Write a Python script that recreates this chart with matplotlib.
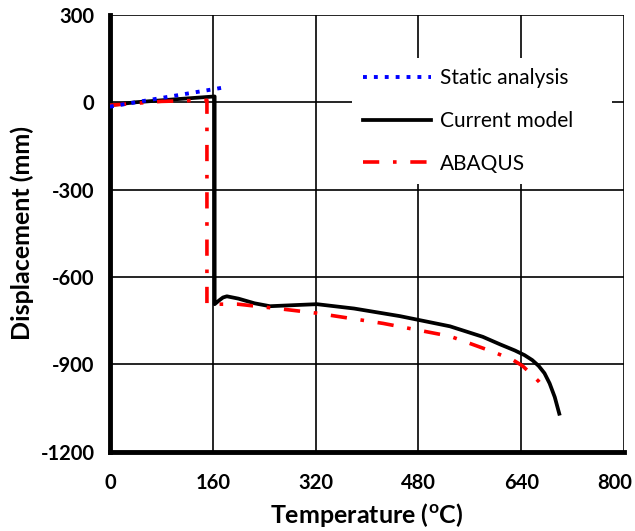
import matplotlib
matplotlib.use("Agg")
import matplotlib.pyplot as plt
import matplotlib.transforms as mtransforms

plt.rcParams['font.family'] = ['Lato', 'DejaVu Sans']
plt.rcParams['axes.unicode_minus'] = False

# static analysis (linear)
static_t = [0, 175]
static_d = [-15, 50]

# current model
model_t = [0, 40, 100, 163, 163, 170, 176, 182, 200, 225, 249, 290, 322, 380, 451, 529, 580, 607, 630,
           645, 657, 667, 676, 684, 692, 699]
model_d = [-10, 0, 10, 20, -693, -680, -670, -666, -674, -690, -700, -696, -693, -708, -734, -769, -805,
           -831, -852, -868, -885, -905, -930, -965, -1012, -1069]

# ABAQUS
abaqus_t = [0, 20, 80, 151, 151, 199, 269, 322, 425, 529, 594, 626, 642, 654, 667, 680]
abaqus_d = [-10, -7, 3, 7, -693, -693, -710, -724, -759, -803, -855, -883, -905, -930, -958, -993]

xticks = [0, 160, 320, 480, 640, 800]
yticks = [300, 0, -300, -600, -900, -1200]

fig = plt.figure(figsize=(6.35, 5.31), dpi=100)
ax = fig.add_axes([0.173, 0.149, 0.81, 0.823])

ax.plot(static_t, static_d, color='#0000ff', linestyle=(0, (1, 1.8)), linewidth=2.8,
        label='Static analysis', zorder=4)
ax.plot(model_t, model_d, color='black', linewidth=2.7, label='Current model', zorder=3)
ax.plot(abaqus_t, abaqus_d, color='#ff0000', linestyle=(0, (4.5, 3.8, 1, 3.8)), linewidth=2.6,
        label='ABAQUS', zorder=3)

ax.set_xlim(0, 800)
ax.set_ylim(-1200, 300)
ax.set_xticks(xticks)
ax.set_yticks(yticks)
ax.grid(True, color='black', linewidth=1.2)
ax.set_axisbelow(True)
ax.tick_params(length=0, labelsize=14.5)
ax.tick_params(axis='x', pad=15)
ax.tick_params(axis='y', pad=11)
for lab in ax.get_xticklabels() + ax.get_yticklabels():
    lab.set_fontweight('bold')

# the last x label sits a little left of its grid line in the reference
last = ax.get_xticklabels()[-1]
last.set_transform(last.get_transform() + mtransforms.ScaledTranslation(-0.1, 0, fig.dpi_scale_trans))

ax.spines['left'].set_linewidth(3.5)
ax.spines['bottom'].set_linewidth(3.5)
ax.spines['top'].set_visible(False)
ax.spines['right'].set_visible(False)

ax.set_xlabel('Temperature ($\\mathregular{^oC}$)', fontsize=18, fontweight='bold', labelpad=6)
ax.set_ylabel('Displacement (mm)', fontsize=18, fontweight='bold', labelpad=5)

leg = ax.legend(loc='upper left', bbox_to_anchor=(0.471, 0.60, 0.506, 0.302), mode='expand',
                borderaxespad=0, fontsize=15, handlelength=3.3, handletextpad=0.4,
                labelspacing=1.09, borderpad=0.5,
                frameon=True, fancybox=False, framealpha=1, edgecolor='none', facecolor='white')
leg.set_zorder(5)

fig.savefig('out.png', dpi=100)
